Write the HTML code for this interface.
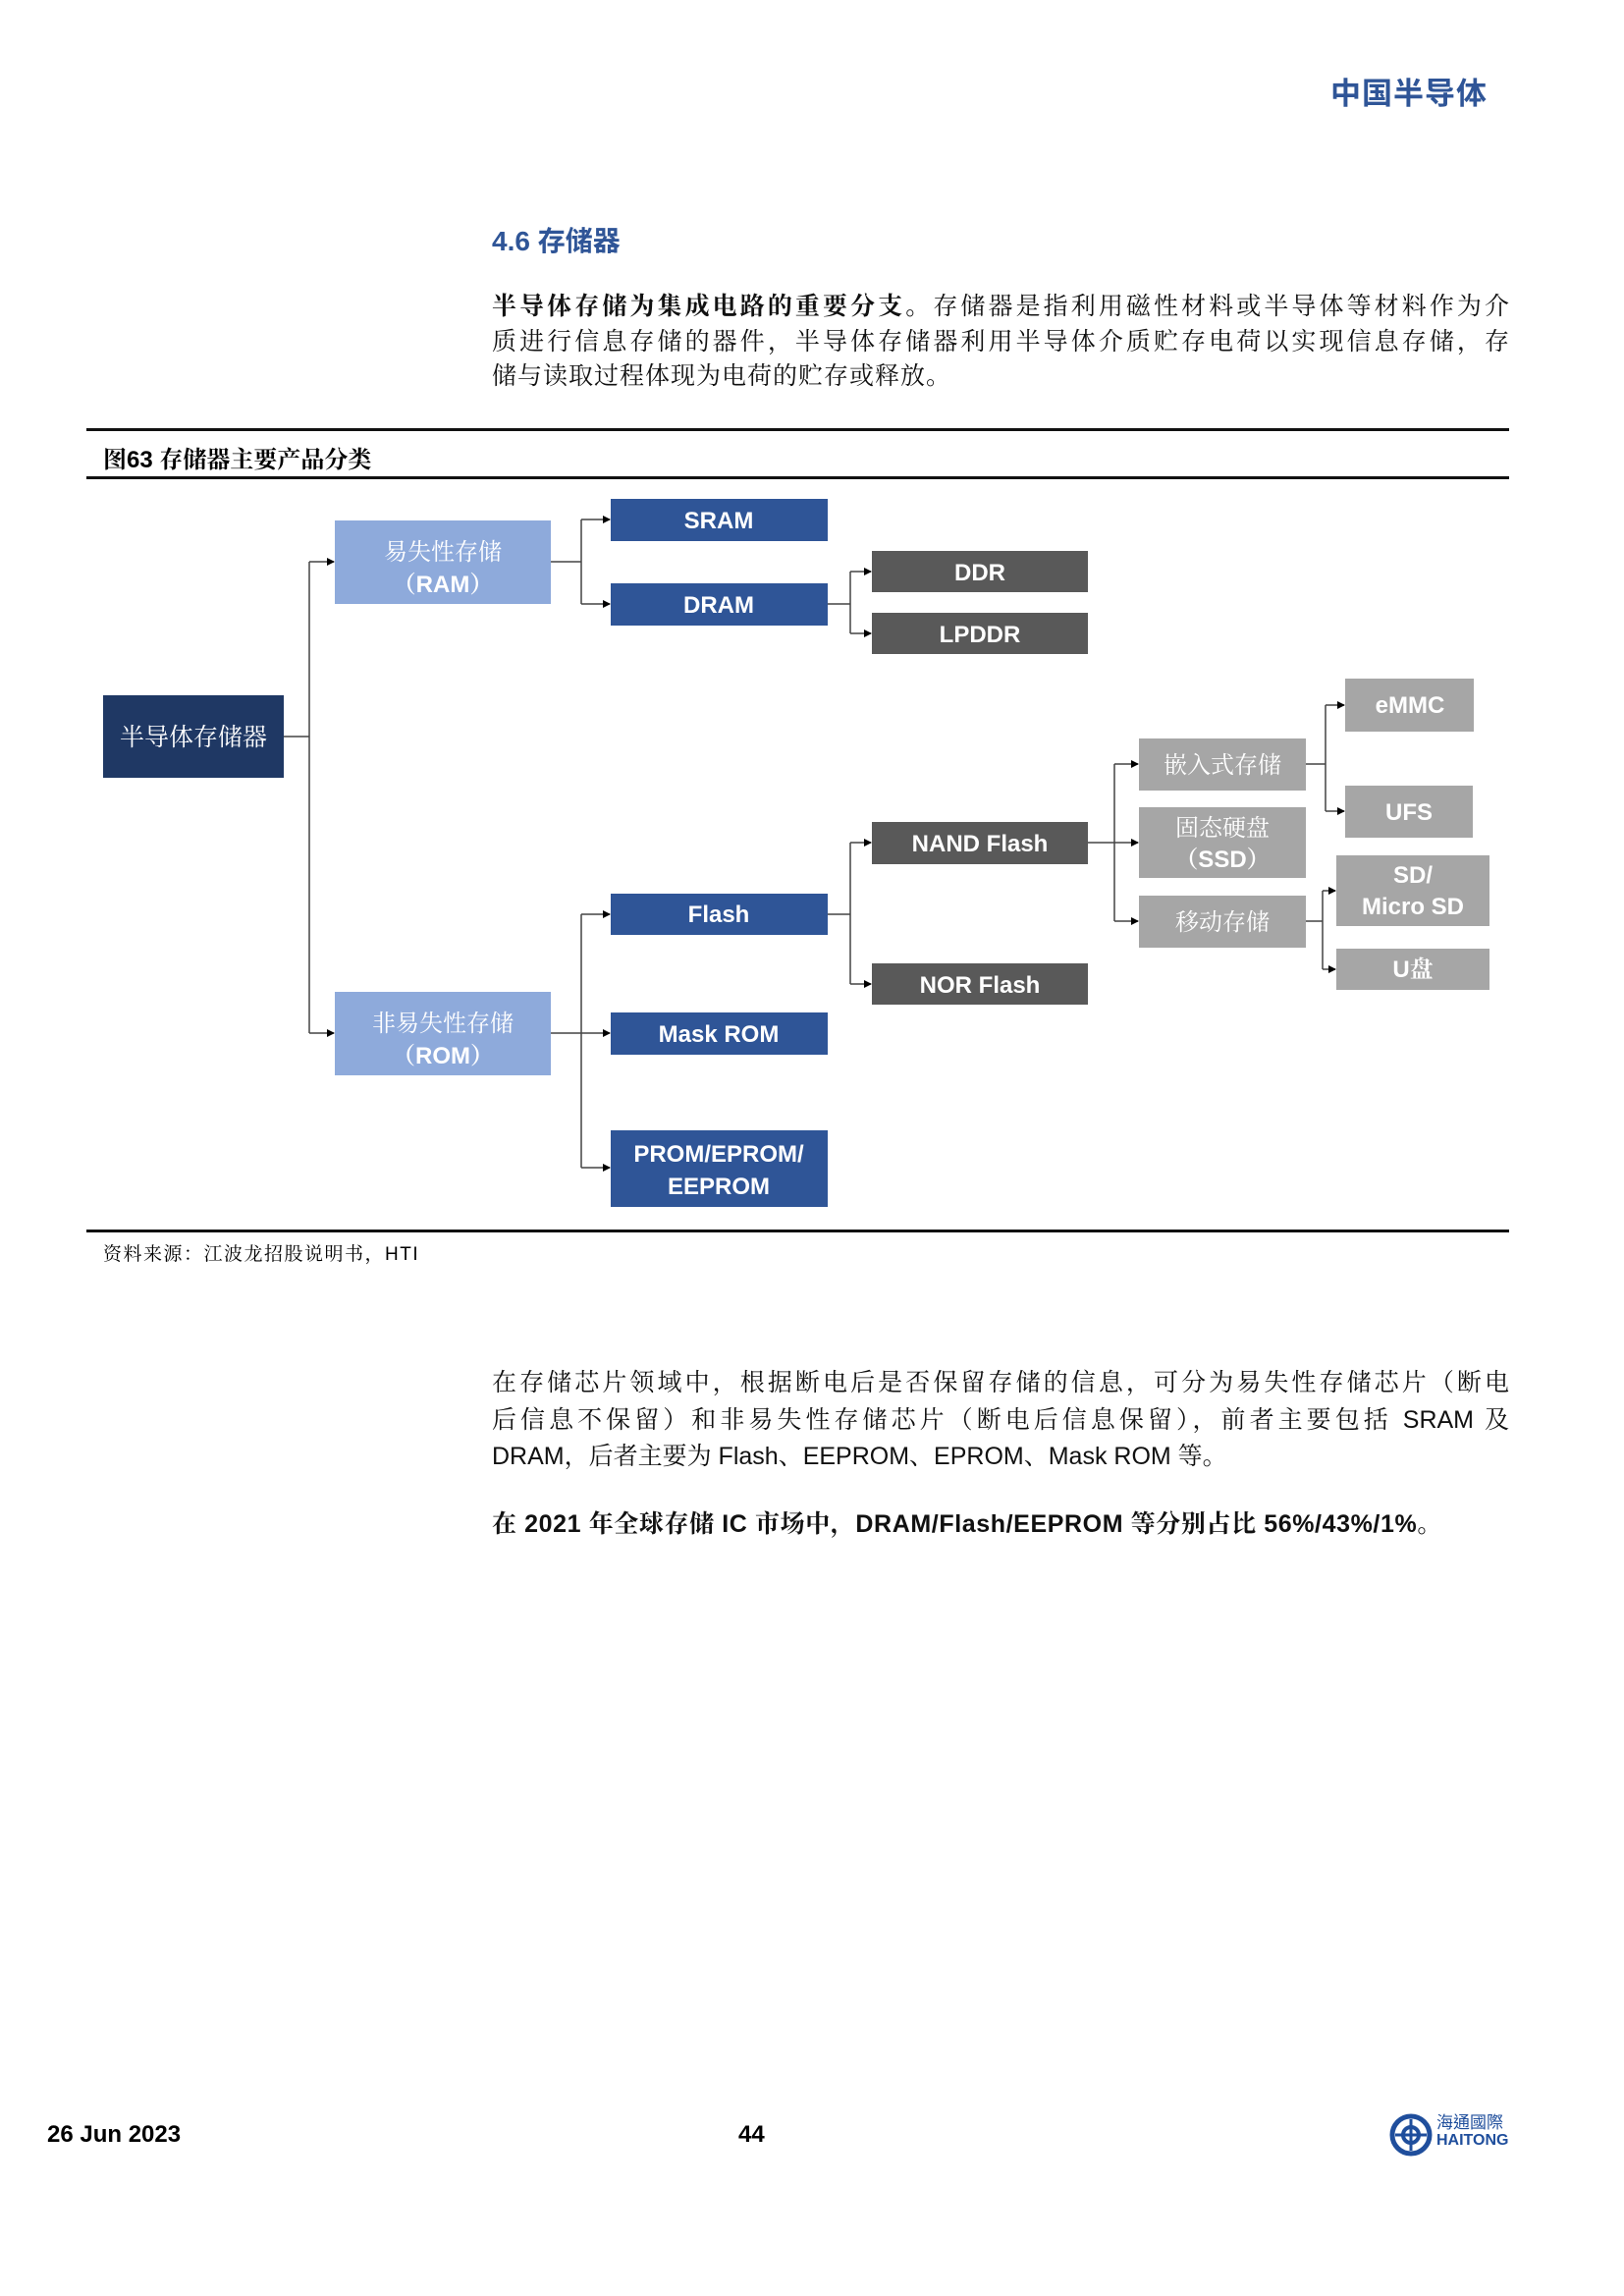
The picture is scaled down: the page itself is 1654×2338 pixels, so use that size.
<!DOCTYPE html>
<html><head><meta charset="utf-8">
<style>
html,body{margin:0;padding:0;background:#fff;}
body{width:1654px;height:2338px;position:relative;overflow:hidden;font-family:"Liberation Sans","Noto Serif CJK SC",serif;}
.a{position:absolute;white-space:nowrap;}
.ln{position:absolute;left:501px;width:1036px;font-size:25px;line-height:30px;font-family:"Liberation Sans","Noto Serif CJK SC",serif;color:#111;text-align:justify;text-align-last:justify;white-space:nowrap;}
.ln.l{text-align-last:left;}
b{font-weight:bold;}
</style></head><body>
<div class="a" style="left:1355px;top:70px;font-size:31px;font-weight:bold;color:#2f5597;letter-spacing:1px;font-family:'Noto Sans CJK SC',sans-serif;">中国半导体</div>
<div class="a" style="left:501px;top:224px;font-size:28px;font-weight:bold;color:#2f5597;font-family:'Liberation Sans','Noto Sans CJK SC',sans-serif;">4.6 存储器</div>

<div class="ln" style="top:297px;"><b>半导体存储为集成电路的重要分支。</b>存储器是指利用磁性材料或半导体等材料作为介</div>
<div class="ln" style="top:333px;">质进行信息存储的器件，半导体存储器利用半导体介质贮存电荷以实现信息存储，存</div>
<div class="ln l" style="top:368px;letter-spacing:1px;">储与读取过程体现为电荷的贮存或释放。</div>

<div class="a" style="left:88px;top:436px;width:1449px;height:3px;background:#111;"></div>
<div class="a" style="left:105px;top:448px;font-size:24px;font-weight:bold;font-family:'Liberation Sans','Noto Serif CJK SC',serif;">图63 存储器主要产品分类</div>
<div class="a" style="left:88px;top:485px;width:1449px;height:3px;background:#111;"></div>

<svg class="a" style="left:0;top:0;" width="1654" height="1300" xmlns="http://www.w3.org/2000/svg">
<defs><marker id="m" markerWidth="8" markerHeight="8" refX="7" refY="4" orient="auto" markerUnits="userSpaceOnUse"><path d="M0,0 L8,4 L0,8 z" fill="#000"/></marker></defs>
<g stroke="#444" stroke-width="1.5" fill="none">
<path d="M289,750 H315 M315,572 V1052"/>
<path d="M315,572 H340" marker-end="url(#m)"/><path d="M315,1052 H340" marker-end="url(#m)"/>
<path d="M561,572 H592 M592,529 V615"/>
<path d="M592,529 H621" marker-end="url(#m)"/><path d="M592,615 H621" marker-end="url(#m)"/>
<path d="M843,615 H866 M866,582 V645"/>
<path d="M866,582 H887" marker-end="url(#m)"/><path d="M866,645 H887" marker-end="url(#m)"/>
<path d="M561,1052 H592 M592,931 V1189"/>
<path d="M592,931 H621" marker-end="url(#m)"/><path d="M592,1052 H621" marker-end="url(#m)"/><path d="M592,1189 H621" marker-end="url(#m)"/>
<path d="M843,931 H866 M866,858 V1002"/>
<path d="M866,858 H887" marker-end="url(#m)"/><path d="M866,1002 H887" marker-end="url(#m)"/>
<path d="M1108,858 H1135 M1135,778 V938"/>
<path d="M1135,778 H1159" marker-end="url(#m)"/><path d="M1135,858 H1159" marker-end="url(#m)"/><path d="M1135,938 H1159" marker-end="url(#m)"/>
<path d="M1330,778 H1350 M1350,718 V826"/>
<path d="M1350,718 H1369" marker-end="url(#m)"/><path d="M1350,826 H1369" marker-end="url(#m)"/>
<path d="M1330,938 H1347 M1347,907 V987"/>
<path d="M1347,907 H1360" marker-end="url(#m)"/><path d="M1347,987 H1360" marker-end="url(#m)"/>
</g>
<g>
<rect x="105" y="708" width="184" height="84" fill="#1f3864"/>
<rect x="341" y="530" width="220" height="85" fill="#8eaadb"/>
<rect x="341" y="1010" width="220" height="85" fill="#8eaadb"/>
<rect x="622" y="508" width="221" height="43" fill="#2f5597"/>
<rect x="622" y="594" width="221" height="43" fill="#2f5597"/>
<rect x="622" y="910" width="221" height="42" fill="#2f5597"/>
<rect x="622" y="1031" width="221" height="43" fill="#2f5597"/>
<rect x="622" y="1151" width="221" height="78" fill="#2f5597"/>
<rect x="888" y="561" width="220" height="42" fill="#595959"/>
<rect x="888" y="624" width="220" height="42" fill="#595959"/>
<rect x="888" y="837" width="220" height="43" fill="#595959"/>
<rect x="888" y="981" width="220" height="42" fill="#595959"/>
<rect x="1160" y="752" width="170" height="53" fill="#a6a6a6"/>
<rect x="1160" y="822" width="170" height="72" fill="#a6a6a6"/>
<rect x="1160" y="912" width="170" height="53" fill="#a6a6a6"/>
<rect x="1370" y="691" width="131" height="54" fill="#a6a6a6"/>
<rect x="1370" y="800" width="130" height="53" fill="#a6a6a6"/>
<rect x="1361" y="871" width="156" height="72" fill="#a6a6a6"/>
<rect x="1361" y="966" width="156" height="42" fill="#a6a6a6"/>
</g>
<g fill="#fff" font-family="Liberation Sans,Noto Serif CJK SC,serif" font-size="24" font-weight="bold" text-anchor="middle">
<text x="197" y="759" font-weight="normal" font-family="Noto Serif CJK SC,serif" font-size="25">半导体存储器</text>
<text x="451" y="570" font-weight="normal" font-family="Noto Serif CJK SC,serif">易失性存储</text>
<text x="451" y="603">（RAM）</text>
<text x="451" y="1050" font-weight="normal" font-family="Noto Serif CJK SC,serif">非易失性存储</text>
<text x="451" y="1083">（ROM）</text>
<text x="732" y="538">SRAM</text>
<text x="732" y="624">DRAM</text>
<text x="732" y="939">Flash</text>
<text x="732" y="1061">Mask ROM</text>
<text x="732" y="1183">PROM/EPROM/</text>
<text x="732" y="1216">EEPROM</text>
<text x="998" y="591">DDR</text>
<text x="998" y="654">LPDDR</text>
<text x="998" y="867">NAND Flash</text>
<text x="998" y="1011">NOR Flash</text>
<text x="1245" y="787" font-weight="normal" font-family="Noto Serif CJK SC,serif">嵌入式存储</text>
<text x="1245" y="851" font-weight="normal" font-family="Noto Serif CJK SC,serif">固态硬盘</text>
<text x="1245" y="883">（SSD）</text>
<text x="1245" y="947" font-weight="normal" font-family="Noto Serif CJK SC,serif">移动存储</text>
<text x="1436" y="726">eMMC</text>
<text x="1435" y="835">UFS</text>
<text x="1439" y="899">SD/</text>
<text x="1439" y="931">Micro SD</text>
<text x="1439" y="995">U盘</text>
</g>
</svg>

<div class="a" style="left:88px;top:1252px;width:1449px;height:3px;background:#111;"></div>
<div class="a" style="left:105px;top:1262px;font-size:19px;letter-spacing:1.5px;font-family:'Liberation Sans','Noto Serif CJK SC',serif;">资料来源：江波龙招股说明书，HTI</div>

<div class="ln" style="top:1393px;">在存储芯片领域中，根据断电后是否保留存储的信息，可分为易失性存储芯片（断电</div>
<div class="ln" style="top:1431px;">后信息不保留）和非易失性存储芯片（断电后信息保留），前者主要包括 SRAM 及</div>
<div class="ln l" style="top:1468px;">DRAM，后者主要为 Flash、EEPROM、EPROM、Mask ROM 等。</div>
<div class="ln l" style="top:1537px;font-weight:bold;letter-spacing:0.6px;">在 2021 年全球存储 IC 市场中，DRAM/Flash/EEPROM 等分别占比 56%/43%/1%。</div>

<div class="a" style="left:48px;top:2160px;font-size:24px;font-weight:bold;">26 Jun 2023</div>
<div class="a" style="left:752px;top:2160px;font-size:24px;font-weight:bold;">44</div>
<svg class="a" style="left:1415px;top:2152px;" width="46" height="46"><circle cx="22" cy="22" r="19" fill="none" stroke="#1f4e9c" stroke-width="5"/><circle cx="22" cy="22" r="8" fill="none" stroke="#1f4e9c" stroke-width="4"/><path d="M22,6 V38 M6,22 H38" stroke="#1f4e9c" stroke-width="3"/></svg>
<div class="a" style="left:1463px;top:2150px;font-size:17px;color:#1f4e9c;font-family:'Noto Sans CJK TC',sans-serif;line-height:20px;">海通國際</div>
<div class="a" style="left:1463px;top:2170px;font-size:16px;font-weight:bold;color:#1f4e9c;line-height:20px;">HAITONG</div>
</body></html>
